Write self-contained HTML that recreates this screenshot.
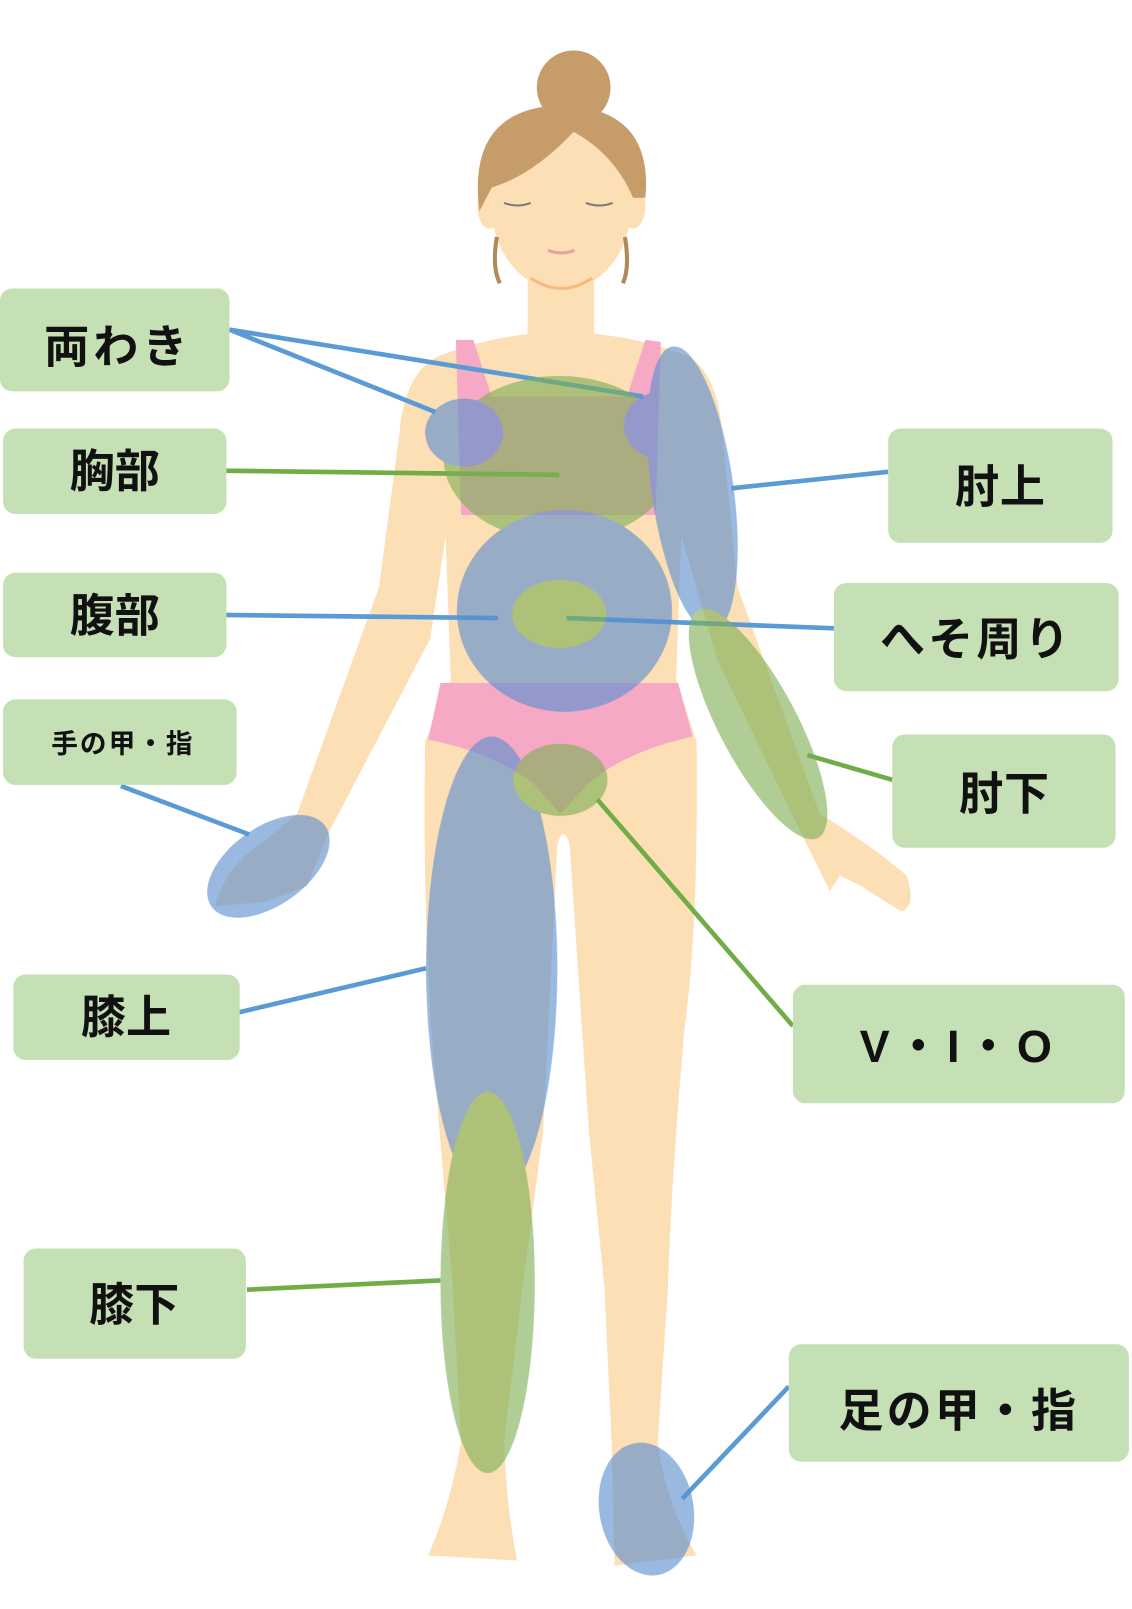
<!DOCTYPE html>
<html><head><meta charset="utf-8"><style>
html,body{margin:0;padding:0;background:#fff;}
svg{display:block;}
text{font-family:"Liberation Sans","Noto Sans CJK JP",sans-serif;font-weight:bold;fill:#111;}
</style></head><body>
<svg width="1132" height="1609" viewBox="0 0 1105 1562" preserveAspectRatio="none" xmlns="http://www.w3.org/2000/svg">
<!-- body -->
<g fill="#fddfb5">
<rect x="515" y="240" width="65" height="90"/>
<path d="M430,345 Q548,300 670,345 Q700,360 705,420 L720,570 L800,790 Q850,820 885,850 Q895,880 880,885 L840,860 L820,850 L810,865 L785,815 L700,640 L665,520 L660,660 L680,720 Q682,900 668,1000 Q655,1150 652,1250 L642,1400 Q650,1460 680,1510 L600,1520 L597,1400 L590,1250 L575,1100 L556,820 Q550,800 544,820 L530,1100 L510,1250 L492,1400 Q495,1470 505,1515 L418,1510 Q440,1460 450,1400 L442,1250 L425,1050 Q412,900 415,720 L440,660 L435,520 L420,620 L320,810 L300,860 L260,875 L210,880 Q220,840 260,815 L290,790 L370,570 L390,420 Q395,360 430,345 Z"/>
<ellipse cx="548" cy="200" rx="68" ry="82"/>
<ellipse cx="478" cy="200" rx="12" ry="22"/>
<ellipse cx="618" cy="200" rx="12" ry="22"/>
</g>
<!-- hair -->
<g fill="#c69c6a">
<circle cx="560" cy="85" r="36"/>
<path d="M468,205 Q455,105 548,102 Q638,105 630,192 L618,192 Q600,150 560,128 Q520,170 480,182 Z"/>
</g>
<path d="M485,230 Q480,260 488,275 M610,230 Q615,260 608,275" stroke="#b08a5a" stroke-width="4" fill="none"/>
<path d="M492,197 Q505,202 518,197 M572,197 Q585,202 598,197" stroke="#777" stroke-width="2" fill="none"/>
<path d="M535,243 Q548,248 561,243" stroke="#e8a0a0" stroke-width="3" fill="none"/>
<path d="M518,270 Q548,290 578,270" stroke="#f8b880" stroke-width="3" fill="none"/>
<!-- bra / panties -->
<g fill="#f5a9c4">
<path d="M445,330 L462,330 L480,385 L612,385 L630,330 L645,332 L640,500 L450,500 Z"/>
<path d="M430,663 L662,663 L676,715 Q610,730 575,760 L547,790 L520,760 Q480,730 418,718 Z"/>
</g>
<!-- connectors -->
<g stroke-width="4.5" fill="none">
<path d="M224,320 L425,400 M224,320 L628,385" stroke="#5b9bd5"/>
<path d="M221,457 L546,461" stroke="#70ad47"/>
<path d="M218,597 L486,600" stroke="#5b9bd5"/>
<path d="M118,763 L243,810" stroke="#5b9bd5"/>
<path d="M232,983 L416,940" stroke="#5b9bd5"/>
<path d="M241,1252 L430,1243" stroke="#70ad47"/>
<path d="M714,474 L867,458" stroke="#5b9bd5"/>
<path d="M553,600 L814,610" stroke="#5b9bd5"/>
<path d="M788,733 L871,757" stroke="#70ad47"/>
<path d="M583,776 L774,996" stroke="#70ad47"/>
<path d="M666,1455 L770,1346" stroke="#5b9bd5"/>
</g>
<!-- overlays -->
<g opacity="0.62">
<ellipse cx="546" cy="445" rx="113" ry="80" fill="#7fae55"/>
<ellipse cx="453" cy="420" rx="38" ry="33" fill="#5b8fcf"/>
<ellipse cx="647" cy="413" rx="38" ry="33" fill="#5b8fcf"/>
<ellipse cx="676" cy="475" rx="40" ry="140" transform="rotate(-8 676 475)" fill="#5b8fcf"/>
<ellipse cx="551" cy="593" rx="105" ry="98" fill="#5b8fcf"/>
<ellipse cx="546" cy="596" rx="46" ry="33" fill="#7fae55"/>
<ellipse cx="740" cy="703" rx="38" ry="125" transform="rotate(-28 740 703)" fill="#7fae55"/>
<ellipse cx="480" cy="940" rx="64" ry="225" fill="#5b8fcf"/>
<ellipse cx="547" cy="757" rx="46" ry="35" fill="#7fae55"/>
<ellipse cx="476" cy="1245" rx="46" ry="185" fill="#7fae55"/>
<ellipse cx="262" cy="841" rx="68" ry="38" transform="rotate(-35 262 841)" fill="#5b8fcf"/>
<ellipse cx="631" cy="1465" rx="46" ry="65" transform="rotate(-10 631 1465)" fill="#5b8fcf"/>
</g>
<!-- labels -->
<g fill="#c5e0b4">
<rect x="0" y="280" width="224" height="100" rx="12"/>
<rect x="3" y="416" width="218" height="83" rx="12"/>
<rect x="3" y="556" width="218" height="82" rx="12"/>
<rect x="3" y="679" width="228" height="83" rx="12"/>
<rect x="13" y="946" width="221" height="83" rx="12"/>
<rect x="23" y="1212" width="217" height="107" rx="12"/>
<rect x="867" y="416" width="219" height="111" rx="12"/>
<rect x="814" y="566" width="278" height="105" rx="12"/>
<rect x="871" y="713" width="218" height="110" rx="12"/>
<rect x="774" y="956" width="324" height="115" rx="12"/>
<rect x="770" y="1305" width="332" height="114" rx="12"/>
</g>
<g text-anchor="middle" font-size="44">
<text x="115" y="352" letter-spacing="4">両わき</text>
<text x="112" y="473">胸部</text>
<text x="112" y="613">腹部</text>
<text x="120" y="731" font-size="26" letter-spacing="2">手の甲・指</text>
<text x="123" y="1003">膝上</text>
<text x="131" y="1282">膝下</text>
<text x="976" y="488">肘上</text>
<text x="953" y="636" letter-spacing="3">へそ周り</text>
<text x="980" y="786">肘下</text>
<text x="936" y="1031" letter-spacing="6">V・I・O</text>
<text x="936" y="1385" letter-spacing="3">足の甲・指</text>
</g>
</svg>
</body></html>
